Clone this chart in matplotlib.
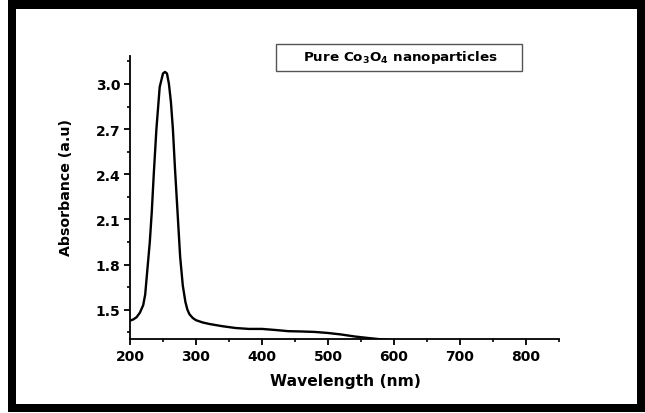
import matplotlib
matplotlib.use("Agg")
import matplotlib.pyplot as plt
from matplotlib.patches import Rectangle
from matplotlib.ticker import MultipleLocator, FormatStrFormatter

# UV-Vis absorbance spectrum of Co3O4 nanoparticles
wavelength = [200, 205, 210, 215, 220, 223, 227, 230, 233, 236, 240, 245, 250,
              253, 256, 259, 262, 265, 268, 272, 276, 280, 284, 287, 290, 295,
              300, 310, 320, 340, 360, 380, 400, 420, 440, 460, 480, 500, 520,
              540, 560, 580, 590]
absorbance = [1.427, 1.435, 1.45, 1.48, 1.53, 1.60, 1.80, 1.95, 2.15, 2.40,
              2.70, 2.98, 3.07, 3.08, 3.07, 3.00, 2.88, 2.70, 2.45, 2.15, 1.85,
              1.66, 1.55, 1.50, 1.47, 1.445, 1.43, 1.415, 1.405, 1.39, 1.378,
              1.372, 1.372, 1.365, 1.357, 1.355, 1.352, 1.345, 1.335, 1.322,
              1.312, 1.303, 1.30]

x_ticks = [200, 300, 400, 500, 600, 700, 800]
y_ticks = [1.5, 1.8, 2.1, 2.4, 2.7, 3.0]
legend_text = r"Pure Co$_3$O$_4$ nanoparticles"

plt.rcParams["font.family"] = ["DejaVu Sans"]
plt.rcParams["font.weight"] = "bold"
plt.rcParams["mathtext.fontset"] = "custom"
plt.rcParams["mathtext.rm"] = "DejaVu Sans:bold"
plt.rcParams["mathtext.it"] = "DejaVu Sans:bold"
plt.rcParams["mathtext.bf"] = "DejaVu Sans:bold"
plt.rcParams["mathtext.default"] = "rm"

W, H = 645, 414
fig = plt.figure(figsize=(W / 100, H / 100), dpi=100)

def px_box(x0, y0, x1, y1):
    """Convert a pixel box (top-left origin) to figure fraction."""
    return [x0 / W, 1 - y1 / H, (x1 - x0) / W, (y1 - y0) / H]

AX_L, AX_T, AX_R, AX_B = 130, 57, 559, 340
ax = fig.add_axes(px_box(AX_L, AX_T, AX_R, AX_B))
ax.plot(wavelength, absorbance, color="black", lw=1.7, solid_joinstyle="round")

ax.set_xlim(200, 850)
ax.set_ylim(1.305, 3.186)
ax.set_xticks(x_ticks)
ax.set_yticks(y_ticks)
ax.xaxis.set_minor_locator(MultipleLocator(50))
ax.yaxis.set_minor_locator(MultipleLocator(0.15))
ax.yaxis.set_major_formatter(FormatStrFormatter("%.1f"))

for side in ("top", "right"):
    ax.spines[side].set_visible(False)
for side in ("left", "bottom"):
    ax.spines[side].set_linewidth(1.3)

ax.tick_params(axis="both", which="major", direction="out", length=4, width=1.3,
               labelsize=10, pad=3)
ax.tick_params(axis="both", which="minor", direction="out", length=2.5, width=1.2)
for lbl in ax.get_xticklabels() + ax.get_yticklabels():
    lbl.set_fontweight("bold")

ax.set_xlabel("Wavelength (nm)", fontsize=11.2, fontweight="bold", va="center")
ax.set_ylabel("Absorbance (a.u)", fontsize=10.2, fontweight="bold", va="center")
ax.xaxis.set_label_coords(0.5 * (1) - (AX_L + (AX_R - AX_L) / 2 - 345) / (AX_R - AX_L),
                          (AX_B - 382) / (AX_B - AX_T))
ax.yaxis.set_label_coords((66 - AX_L) / (AX_R - AX_L), (AX_B - 188) / (AX_B - AX_T))

# labelled box for the sample name
fig.patches.append(Rectangle((276 / W, 1 - 72 / H), (522 - 276) / W, (72 - 45) / H,
                             transform=fig.transFigure, fill=False,
                             edgecolor="#555555", lw=1.0))
fig.text(400 / W, 1 - 58 / H, legend_text, ha="center", va="center",
         fontsize=9.7, fontweight="bold")

# black outer frame
frame = [(8, 0, 16, 413), (8, 0, 645, 10), (8, 405, 645, 413), (637, 0, 645, 413)]
for x0, y0, x1, y1 in frame:
    fig.patches.append(Rectangle((x0 / W, 1 - y1 / H), (x1 - x0) / W, (y1 - y0) / H,
                                 transform=fig.transFigure, facecolor="black",
                                 edgecolor="none"))

fig.savefig("out.png", dpi=100, facecolor="white")
